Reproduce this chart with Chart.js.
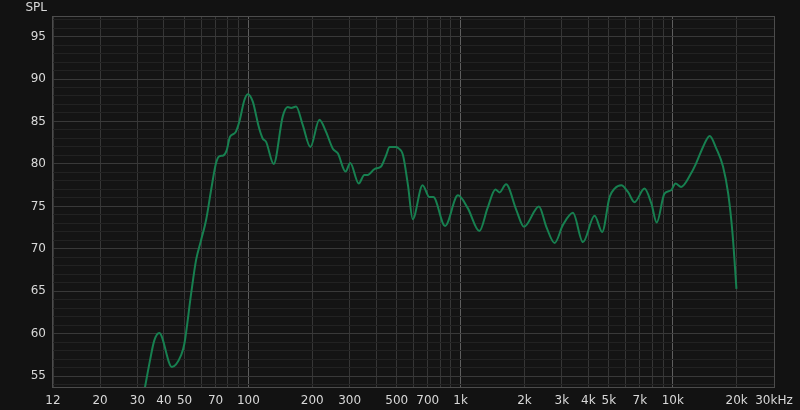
<!DOCTYPE html>
<html>
<head>
<meta charset="utf-8">
<title>SPL</title>
<script src="https://cdn.jsdelivr.net/npm/chart.js@4/dist/chart.umd.min.js"></script>
<style>
	html, body { margin: 0; padding: 0; background: #121212; }
	#wrap { width: 800px; height: 410px; }
</style>
</head>
<body>
<div id="wrap"><canvas id="spl" width="800" height="410"></canvas></div>
<script>
	var freqs = [32.5, 34.4, 36, 38, 43.6, 48.2, 49.9, 53.7, 56.7, 59.8, 63.2, 66.7, 70.4, 72.9, 76.2, 79, 81.9, 86.8, 90.7, 95.7,
		99.3, 105, 109, 111.8, 116.8, 121.2, 131.6, 145.2, 153.2, 159, 167.8, 180.3, 196, 216, 232, 250, 264, 287, 302, 331,
		352, 365, 393, 422, 446, 463, 497, 506, 535, 565, 595, 662, 713, 744, 845, 972, 1081, 1226, 1340, 1460,
		1525, 1638, 1830, 1990, 2340, 2536, 2775, 3036, 3384, 3772, 4281, 4650, 5037, 5320, 5720, 6150, 6600, 7360, 7925, 8400,
		9140, 9830, 10300, 10950, 12200, 12900, 13890, 14930, 16050, 17250, 18250, 19130, 19960];
	var spl = [53.6, 56.9, 59.2, 60.1, 56.1, 57.5, 58.8, 64.7, 68.7, 71.0, 73.4, 76.9, 80.1, 80.9, 81.0, 81.6, 83.2, 83.7, 85.0, 87.5,
		88.2, 87.3, 85.6, 84.4, 83.0, 82.6, 80.0, 85.6, 86.7, 86.6, 86.75, 84.6, 82.0, 85.2, 83.8, 81.8, 81.25, 79.1, 80.1, 77.7,
		78.7, 78.7, 79.4, 79.7, 81.05, 82.0, 82.0, 81.9, 81.05, 77.5, 73.5, 77.5, 76.1, 76.1, 72.7, 76.3, 74.8, 72.1, 74.8, 77.0,
		76.65, 77.6, 74.6, 72.6, 75.0, 72.6, 70.7, 72.8, 74.25, 70.8, 73.9, 72.0, 76.1, 77.1, 77.5, 76.7, 75.5, 77.1, 75.35, 73.1,
		76.5, 76.9, 77.7, 77.3, 78.9, 80.1, 82.0, 83.3, 81.8, 79.7, 76.5, 71.8, 65.3];

	// axis grid and labels
	var gridFreqs = [12, 20, 30, 40, 50, 60, 70, 80, 90, 100, 200, 300, 400, 500, 600, 700, 800, 900,
		1000, 2000, 3000, 4000, 5000, 6000, 7000, 8000, 9000, 10000, 20000, 30000];
	var labelFreqs = [12, 20, 30, 40, 50, 70, 100, 200, 300, 500, 700, 1000, 2000, 3000, 4000, 5000, 7000, 10000, 20000, 30000];
	var labelTexts = ['12', '20', '30', '40', '50', '70', '100', '200', '300', '500', '700', '1k', '2k', '3k', '4k', '5k', '7k', '10k', '20k', '30kHz'];
	var decadeFreqs = [100, 1000, 10000];
	var splMin = 53.74;
	var splMax = 97.3;

	var font = {family: '"DejaVu Sans", sans-serif', size: 12};

	var points = freqs.map(function(f, i) {
		return {x: f, y: spl[i]};
	});

	var frame = {
		id: 'frame',
		beforeDraw: function(chart) {
			var ctx = chart.ctx;
			var a = chart.chartArea;
			ctx.save();
			ctx.fillStyle = '#121212';
			ctx.fillRect(0, 0, chart.width, chart.height);
			ctx.fillStyle = '#141414';
			ctx.fillRect(a.left, a.top, a.right - a.left, a.bottom - a.top);
			ctx.restore();
		},
		afterDraw: function(chart) {
			var ctx = chart.ctx;
			var a = chart.chartArea;
			ctx.save();
			ctx.strokeStyle = '#4c4c4c';
			ctx.lineWidth = 1;
			ctx.strokeRect(Math.round(a.left) - 0.5, Math.round(a.top) - 0.5, Math.round(a.right - a.left) + 1, Math.round(a.bottom - a.top) + 1);
			ctx.fillStyle = '#d8d8d8';
			ctx.font = font.size + 'px ' + font.family;
			ctx.textAlign = 'right';
			ctx.textBaseline = 'middle';
			ctx.fillText('SPL', 47, 8);
			ctx.restore();
		}
	};

	new Chart(document.getElementById('spl'), {
		type: 'line',
		data: {
			datasets: [{
				data: points,
				borderColor: '#178050',
				borderWidth: 2,
				pointRadius: 0,
				cubicInterpolationMode: 'monotone',
				fill: false
			}]
		},
		options: {
			responsive: false,
			animation: false,
			layout: {padding: {top: 17, right: 26, left: 0, bottom: 0}},
			plugins: {legend: {display: false}, tooltip: {enabled: false}},
			scales: {
				x: {
					type: 'logarithmic',
					min: 12,
					max: 30000,
					afterBuildTicks: function(scale) {
						scale.ticks = gridFreqs.map(function(v) { return {value: v}; });
					},
					afterFit: function(scale) {
						scale.height = 23;
					},
					border: {display: false},
					grid: {
						drawTicks: false,
						color: function(c) {
							var v = c.tick && c.tick.value;
							return decadeFreqs.indexOf(v) != -1 ? '#5e5e5e' : '#363636';
						}
					},
					ticks: {
						autoSkip: false,
						maxRotation: 0,
						padding: 7,
						color: '#d8d8d8',
						font: font,
						callback: function(value) {
							var i = labelFreqs.indexOf(value);
							return i == -1 ? '' : labelTexts[i];
						}
					}
				},
				y: {
					min: splMin,
					max: splMax,
					afterBuildTicks: function(scale) {
						var ticks = [];
						for (var v = 54; v <= 97; v++) {
							ticks.push({value: v});
						}
						scale.ticks = ticks;
					},
					afterFit: function(scale) {
						scale.width = 53;
					},
					border: {display: false},
					grid: {
						drawTicks: false,
						color: function(c) {
							var v = c.tick && c.tick.value;
							return v % 5 == 0 ? '#393939' : '#222222';
						}
					},
					ticks: {
						autoSkip: false,
						padding: 7,
						color: '#d8d8d8',
						font: font,
						callback: function(value) {
							return value % 5 == 0 ? String(value) : '';
						}
					}
				}
			}
		},
		plugins: [frame]
	});
</script>
</body>
</html>
